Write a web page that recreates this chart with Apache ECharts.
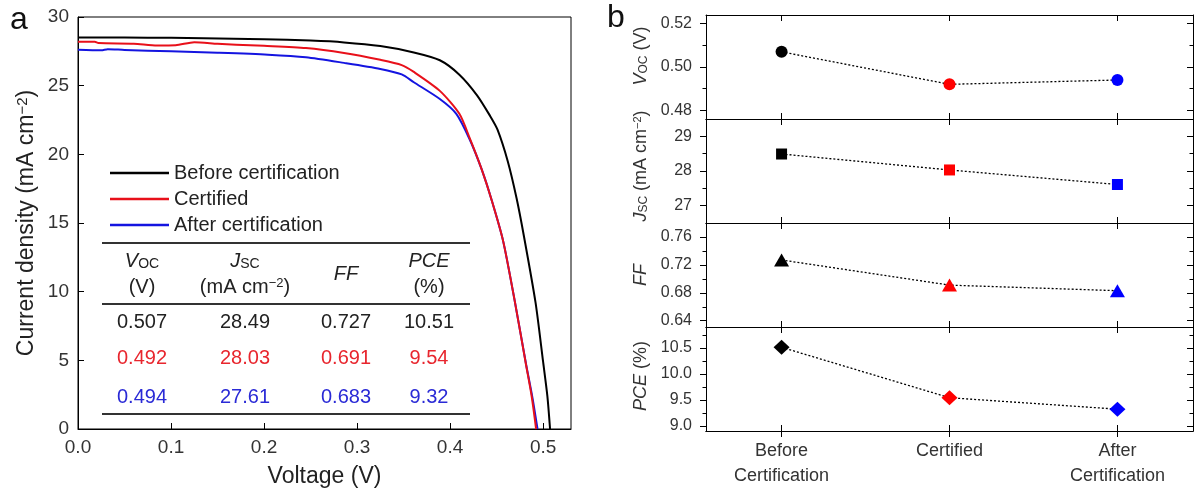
<!DOCTYPE html>
<html><head><meta charset="utf-8">
<script src="https://cdn.jsdelivr.net/npm/echarts@6/dist/echarts.min.js"></script>
<style>html,body{margin:0;padding:0;background:#fff}#c{width:1198px;height:493px}</style>
</head><body><div id="c"></div>
<script>
const FONT = "'Liberation Sans', Arial, Helvetica, sans-serif";

// ---------- Panel a: J-V curves ----------
const voltBefore = [0, 0.05, 0.1, 0.135, 0.2, 0.25, 0.286, 0.325, 0.361, 0.389, 0.41, 0.429, 0.443, 0.451, 0.462, 0.4715, 0.4795, 0.4919, 0.5, 0.5046, 0.5075];
const curBefore  = [28.51, 28.5, 28.48, 28.45, 28.38, 28.28, 28.15, 27.88, 27.42, 26.85, 25.8, 24.3, 22.8, 21.8, 19.5, 16.8, 14.0, 9.2, 4.9, 2.4, 0];
const voltCert = [0, 0.018, 0.022, 0.06, 0.085, 0.105, 0.125, 0.15, 0.17, 0.2, 0.245, 0.286, 0.325, 0.348, 0.361, 0.389, 0.41, 0.421, 0.434, 0.445, 0.457, 0.4693, 0.4816, 0.4878, 0.4925];
const curCert  = [28.2, 28.2, 28.1, 28.06, 27.93, 27.95, 28.17, 28.05, 27.98, 27.9, 27.74, 27.38, 26.88, 26.5, 26.0, 24.62, 22.95, 21.2, 18.9, 16.6, 13.7, 9.4, 4.7, 2.35, 0];
const voltAfter = [0, 0.025, 0.032, 0.05, 0.1, 0.15, 0.2043, 0.245, 0.286, 0.325, 0.348, 0.361, 0.389, 0.4067, 0.421, 0.434, 0.445, 0.457, 0.4693, 0.4816, 0.4885, 0.494];
const curAfter  = [27.62, 27.58, 27.66, 27.6, 27.5, 27.4, 27.26, 27.07, 26.66, 26.22, 25.82, 25.25, 24.03, 22.95, 21.1, 18.9, 16.6, 13.7, 9.4, 4.75, 2.3, 0];
const seriesNames = ['Before certification', 'Certified', 'After certification'];
const lineColors = ['#000000', '#e8101a', '#1414e0'];
const voltTicks = [0, 0.1, 0.2, 0.3, 0.4, 0.5];
const currentTicks = [0, 5, 10, 15, 20, 25, 30];

// ---------- Shared device parameters ----------
const vocValues = [0.507, 0.492, 0.494];
const jscValues = [28.49, 28.03, 27.61];
const ffValues  = [0.727, 0.691, 0.683];
const pceValues = [10.51, 9.54, 9.32];

// ---------- Panel b ----------
const categories = ['Before\nCertification', 'Certified', 'After\nCertification'];
const pointColors = ['#000000', '#ff0000', '#0000ff'];
const tableColors = ['#222222', '#e8262e', '#2a2ad6'];
const vocTicks = [0.48, 0.50, 0.52];
const vocMinor = [0.49, 0.51];
const jscTicks = [27, 28, 29];
const jscMinor = [27.5, 28.5];
const ffTicks = [0.64, 0.68, 0.72, 0.76];
const ffMinor = [0.66, 0.70, 0.74];
const pceTicks = [9.0, 9.5, 10.0, 10.5];
const pceMinor = [9.25, 9.75, 10.25, 10.75];

const pairs = (xs, ys) => xs.map((x, i) => [x, ys[i]]);

const grids = [{left: 78, top: 17, width: 493, height: 416, show: true, borderColor: '#000', borderWidth: 1}];
const xAxes = [{
  type: 'value', gridIndex: 0, min: 0, max: 0.53,
  name: 'Voltage (V)', nameLocation: 'middle', nameGap: 36,
  nameTextStyle: {fontFamily: FONT, fontSize: 23, color: '#222'},
  axisLine: {show: true, onZero: false, lineStyle: {color: '#000', width: 1}},
  axisTick: {show: true, inside: true, length: 6, customValues: voltTicks, lineStyle: {color: '#000'}},
  axisLabel: {customValues: voltTicks, formatter: v => v.toFixed(1), fontFamily: FONT, fontSize: 19, color: '#333', margin: 9},
  splitLine: {show: false}
}];
const yAxes = [{
  type: 'value', gridIndex: 0, min: 0, max: 30,
  name: 'Current density (mA cm{p|\u22122})', nameLocation: 'middle', nameGap: 40, nameRotate: 90,
  nameTextStyle: {fontFamily: FONT, fontSize: 23, color: '#222', rich: {p: {fontSize: 15, fontFamily: FONT, color: '#222', verticalAlign: 'top', padding: [0, 0, 8, 0]}}},
  axisLine: {show: true, onZero: false, lineStyle: {color: '#000', width: 1}},
  axisTick: {show: true, inside: true, length: 6, customValues: currentTicks, lineStyle: {color: '#000'}},
  axisLabel: {customValues: currentTicks, fontFamily: FONT, fontSize: 19, color: '#333', margin: 9},
  splitLine: {show: false}
}];
const series = [];
[[voltBefore, curBefore], [voltCert, curCert], [voltAfter, curAfter]].forEach((d, k) => {
  series.push({
    type: 'line', name: seriesNames[k], xAxisIndex: 0, yAxisIndex: 0,
    data: pairs(d[0], d[1]), symbol: 'none', smooth: 0.25,
    lineStyle: {color: lineColors[k], width: 2, join: 'round'}, itemStyle: {color: lineColors[k]},
    z: 5 - k, silent: true
  });
});

const catPos = [0, 1, 2];
const axisLineStyle = {show: true, onZero: false, lineStyle: {color: '#000', width: 1}};
const panels = [
  {values: vocValues, ticks: vocTicks, minor: vocMinor, min: 0.476, max: 0.524, dec: 2, symbol: 'circle', size: 12,
   name: '{i|V}{s|OC} (V)', pad: [0, 0, 0, 22]},
  {values: jscValues, ticks: jscTicks, minor: jscMinor, min: 26.5, max: 29.5, dec: 0, symbol: 'rect', size: 11,
   name: '{i|J}{s|SC} (mA cm{p|\u22122})', pad: [0, 0, 0, 10]},
  {values: ffValues, ticks: ffTicks, minor: ffMinor, min: 0.631, max: 0.78, dec: 2, symbol: 'triangle', size: [15, 13],
   name: '{i|FF}', pad: [0, 0, 0, 0]},
  {values: pceValues, ticks: pceTicks, minor: pceMinor, min: 8.9, max: 10.9, dec: 1, symbol: 'diamond', size: [16, 15],
   name: '{i|PCE} (%)', pad: [0, 0, 0, 6]}
];
const nameRich = {
  i: {fontStyle: 'italic', fontFamily: FONT, fontSize: 18, color: '#333'},
  s: {fontFamily: FONT, fontSize: 12, color: '#333', verticalAlign: 'bottom', padding: [6, 0, 0, 0]},
  p: {fontFamily: FONT, fontSize: 11, color: '#333', verticalAlign: 'top', padding: [0, 0, 7, 0]}
};
panels.forEach((p, k) => {
  const g = k + 1;
  grids.push({left: 706, width: 487, top: 15 + 104 * k, height: 104, show: false});
  const xBase = {type: 'value', gridIndex: g, min: -0.45, max: 2.45, axisLine: axisLineStyle, splitLine: {show: false}, axisLabel: {show: false}};
  xAxes.push(Object.assign({}, xBase, {position: 'bottom', axisTick: {show: true, inside: true, length: 6, customValues: catPos, lineStyle: {color: '#000'}}}));
  xAxes.push(Object.assign({}, xBase, {position: 'top', axisTick: {show: true, inside: true, length: 6, customValues: catPos, lineStyle: {color: '#000'}}}));
  const xIdx = xAxes.length - 2;
  if (k === 3) {
    xAxes.push(Object.assign({}, xBase, {
      position: 'bottom',
      axisTick: {show: true, inside: false, length: 6, customValues: catPos, lineStyle: {color: '#000'}},
      axisLabel: {show: true, customValues: catPos, formatter: v => categories[Math.round(v)], fontFamily: FONT, fontSize: 18, lineHeight: 25, color: '#333', margin: 8}
    }));
  }
  const yBase = {type: 'value', gridIndex: g, min: p.min, max: p.max, splitLine: {show: false}};
  yAxes.push(Object.assign({}, yBase, {
    position: 'left', axisLine: axisLineStyle,
    name: p.name, nameLocation: 'middle', nameRotate: 90, nameGap: 56,
    nameTextStyle: {fontFamily: FONT, fontSize: 18, color: '#333', rich: nameRich, padding: p.pad},
    axisTick: {show: true, inside: false, length: 6, customValues: p.ticks, lineStyle: {color: '#000'}},
    axisLabel: {customValues: p.ticks, formatter: v => v.toFixed(p.dec), fontFamily: FONT, fontSize: 16, color: '#333', margin: 14}
  }));
  const yIdx = yAxes.length - 1;
  yAxes.push(Object.assign({}, yBase, {position: 'left', axisLine: {show: false, onZero: false},
    axisTick: {show: true, inside: false, length: 3.5, customValues: p.minor, lineStyle: {color: '#000'}}, axisLabel: {show: false}}));
  yAxes.push(Object.assign({}, yBase, {position: 'right', axisLine: axisLineStyle,
    axisTick: {show: true, inside: true, length: 6, customValues: p.ticks, lineStyle: {color: '#000'}}, axisLabel: {show: false}}));
  yAxes.push(Object.assign({}, yBase, {position: 'right', axisLine: {show: false, onZero: false},
    axisTick: {show: true, inside: true, length: 3.5, customValues: p.minor, lineStyle: {color: '#000'}}, axisLabel: {show: false}}));
  series.push({
    type: 'line', xAxisIndex: xIdx, yAxisIndex: yIdx,
    data: p.values.map((v, i) => ({value: [catPos[i], v], itemStyle: {color: pointColors[i]}})),
    symbol: p.symbol, symbolSize: p.size, showAllSymbol: true,
    lineStyle: {color: '#000', width: 1.3, type: [2, 2]},
    z: 3, silent: true
  });
});

// ---------- Table in panel a ----------
const colX = [142, 245, 346, 429];
const rowY = [322, 358.5, 397];
const tRich = {
  i: {fontStyle: 'italic', fontFamily: FONT, fontSize: 20, fill: '#222'},
  s: {fontFamily: FONT, fontSize: 14, fill: '#222', verticalAlign: 'bottom', padding: [7, 0, 0, 0]},
  p: {fontFamily: FONT, fontSize: 13, fill: '#222', verticalAlign: 'top', padding: [0, 0, 8, 0]}
};
const txt = (x, y, text, color, extra) => ({
  type: 'text', x: x, y: y, silent: true,
  style: Object.assign({text: text, fontFamily: FONT, fontSize: 20, fill: color || '#222', align: 'center', verticalAlign: 'middle', rich: tRich}, extra || {})
});
const hline = (y) => ({type: 'line', silent: true, shape: {x1: 102, y1: y, x2: 470, y2: y}, style: {stroke: '#333', lineWidth: 2}});
const graphics = [
  {type: 'text', x: 10, y: 4, silent: true, style: {text: 'a', fontFamily: FONT, fontSize: 32, fill: '#111'}},
  {type: 'text', x: 607, y: 2, silent: true, style: {text: 'b', fontFamily: FONT, fontSize: 32, fill: '#111'}},
  hline(243), hline(304), hline(414),
  txt(colX[0], 261, '{i|V}{s|OC}'), txt(colX[0], 287, '(V)'),
  txt(colX[1], 261, '{i|J}{s|SC}'), txt(colX[1], 287, '(mA cm{p|\u22122})'),
  txt(colX[2], 274, '{i|FF}'),
  txt(colX[3], 261, '{i|PCE}'), txt(colX[3], 287, '(%)')
];
for (let r = 0; r < 3; r++) {
  const vals = [vocValues[r].toFixed(3), jscValues[r].toFixed(2), ffValues[r].toFixed(3), pceValues[r].toFixed(2)];
  vals.forEach((v, c) => graphics.push(txt(colX[c], rowY[r], v, tableColors[r])));
}

const chart = echarts.init(document.getElementById('c'), null, {renderer: 'canvas'});
chart.setOption({
  animation: false,
  backgroundColor: '#fff',
  grid: grids,
  xAxis: xAxes,
  yAxis: yAxes,
  legend: {
    data: seriesNames.map((n, k) => ({name: n, icon: 'rect', itemStyle: {color: lineColors[k]}})),
    orient: 'vertical', left: 105, top: 158,
    itemWidth: 59, itemHeight: 2.5, itemGap: 6, selectedMode: false,
    textStyle: {fontFamily: FONT, fontSize: 20, color: '#222', lineHeight: 20}
  },
  series: series,
  graphic: graphics
});
</script>
</body></html>
